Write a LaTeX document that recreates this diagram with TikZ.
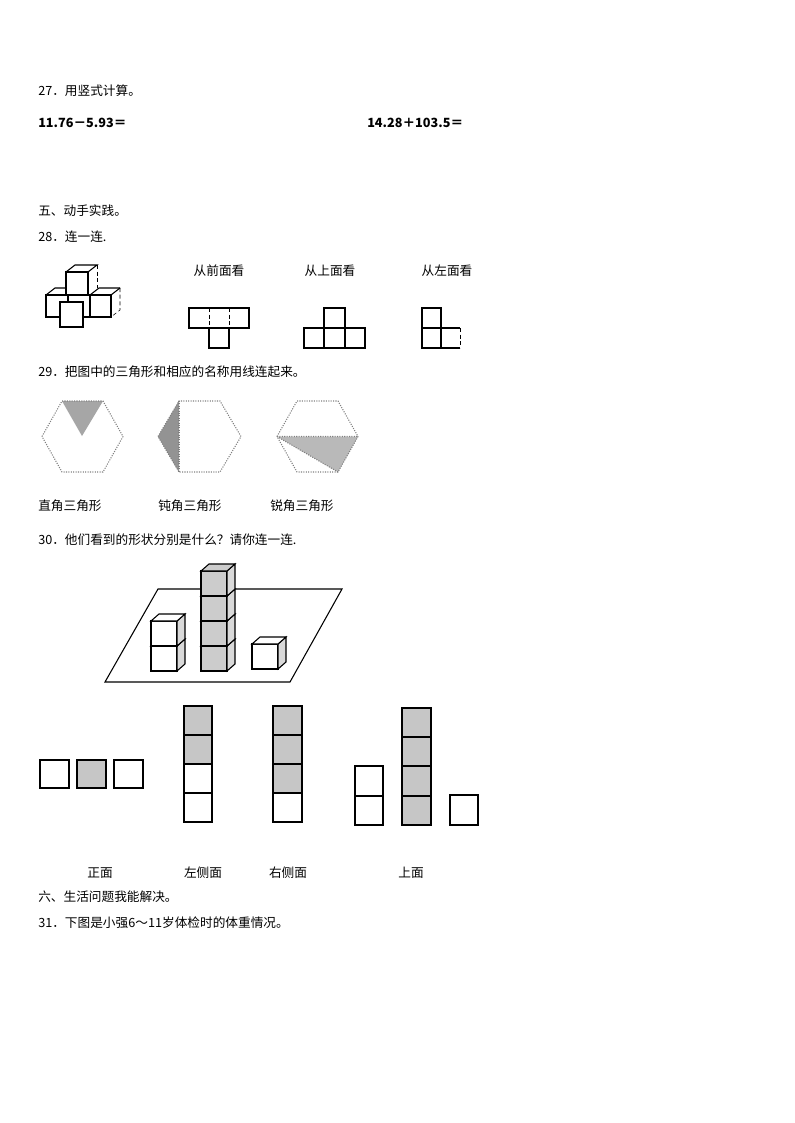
\documentclass[tikz,border=0pt]{standalone}
\usepackage{fontspec}
\setmainfont{Liberation Serif}
\newfontfamily\cjk{Noto Sans CJK SC}
\begin{document}
\begin{tikzpicture}[x=0.75pt,y=-0.75pt,
  txt/.style={anchor=west,inner sep=0,font=\cjk\fontsize{9.5}{11}\selectfont},
  ctxt/.style={inner sep=0,font=\cjk\fontsize{9.5}{11}\selectfont},
  hex/.style={draw=gray,densely dotted,thick},
  sq/.style={draw=black,thick},
  gsq/.style={draw=black,thick,fill=gray!45}]
\useasboundingbox (0,0) rectangle (794,1123);
\fill[white] (0,0) rectangle (794,1123);
% texts
\node[txt] (t27) at (38,91) {27．用竖式计算。};
\node[txt] (e1) at (38,123) {\bfseries 11.76－5.93＝};
\node[txt] (e2) at (367,123) {\bfseries 14.28＋103.5＝};
\node[txt] (t5) at (38,211) {五、动手实践。};
\node[txt] (t28) at (38,237) {28．连一连.};
\node[ctxt] (l1) at (219,271) {从前面看};
\node[ctxt] (l2) at (330,271) {从上面看};
\node[ctxt] (l3) at (447,271) {从左面看};
\node[txt] (t29) at (38,372) {29．把图中的三角形和相应的名称用线连起来。};
\node[txt] (n1) at (38,506) {直角三角形};
\node[txt] (n2) at (158,506) {钝角三角形};
\node[txt] (n3) at (270,506) {锐角三角形};
\node[txt] (t30) at (38,540) {30．他们看到的形状分别是什么？请你连一连.};
\node[ctxt] (v1) at (100,873) {正面};
\node[ctxt] (v2) at (203,873) {左侧面};
\node[ctxt] (v3) at (288,873) {右侧面};
\node[ctxt] (v4) at (411,873) {上面};
\node[txt] (t6) at (38,897) {六、生活问题我能解决。};
\node[txt] (t31) at (38,923) {31．下图是小强6～11岁体检时的体重情况。};
% Q28 cube figure
\begin{scope}[thick]
\def\dx{9}\def\dy{-7}
% back row
\draw (46,295) rectangle (68,317);
\draw (46,295) -- ++(\dx,\dy) -- (68+\dx,295+\dy);
\draw[fill=white] (90,295) rectangle (111,317);
\draw (90,295) -- ++(\dx,\dy) -- (111+\dx,295+\dy);
\draw[densely dashed,thin] (111+\dx,295+\dy) -- (111+\dx,317+\dy) -- (111,317);
\draw (111,295)--(111+\dx,295+\dy);
\draw[densely dashed,thin] (90,295) -- (90,317);
% top cube
\draw[fill=white] (66,272) rectangle (88,295);
\draw (66,272) -- ++(\dx,\dy) -- (88+\dx,272+\dy) -- (88,272);
\draw[densely dashed,thin] (88+\dx,272+\dy) -- (88+\dx,295+\dy);
\draw (68,317)--(90,317);
% front cube
\draw[fill=white] (60,302) rectangle (83,327);
\end{scope}
% views
\begin{scope}[thick]
\draw (189,308) rectangle (249,328);
\draw[densely dashed,thin] (209,308)--(209,328) (229,308)--(229,328);
\draw (209,328) rectangle (229,348);
\draw (324,308) rectangle (345,328);
\draw (304,328) rectangle (365,348);
\draw (324,328)--(324,348) (345,328)--(345,348);
\draw (422,308) rectangle (441,348);
\draw (422,328)--(441,328);
\draw (441,328)--(460,328) (441,348)--(460,348);
\draw[densely dashed,thin] (460,328)--(460,348);
\end{scope}
% Q29 hexagons
\fill[gray!70] (62,401) -- (103,401) -- (82,436) -- cycle;
\draw[hex] (42,436.5) -- (62,401) -- (103,401) -- (123,436.5) -- (103,472) -- (62,472) -- cycle;
\fill[gray!85] (179,401) -- (158,436.5) -- (179,472) -- cycle;
\draw[hex] (158,436.5) -- (179,401) -- (220,401) -- (241,436.5) -- (220,472) -- (179,472) -- cycle;
\draw[hex] (179,401) -- (179,472);
\fill[gray!55] (277,436.5) -- (358,436.5) -- (338,472) -- cycle;
\draw[hex] (277,436.5) -- (297,401) -- (338,401) -- (358,436.5) -- (338,472) -- (297,472) -- cycle;
\draw[hex] (277,436.5) -- (358,436.5) (277,436.5) -- (338,472);
% Q30 scene
\draw[thick] (158,589) -- (342,589) -- (290,682) -- (105,682) -- cycle;
\def\cube#1#2#3{% x, ytop, fill
  \draw[fill=#3] (#1,#2) rectangle ++(26,25);
  \draw[fill=gray!30] (#1+26,#2) -- ++(8,-7) -- ++(0,25) -- ++(-8,7) -- cycle;
  \draw[fill=#3] (#1,#2) -- ++(8,-7) -- ++(26,0) -- ++(-8,7) -- cycle;}
\begin{scope}[thick]
\cube{151}{646}{white}\cube{151}{621}{white}
\cube{201}{646}{gray!40}\cube{201}{621}{gray!40}\cube{201}{596}{gray!40}\cube{201}{571}{gray!40}
\cube{252}{644}{white}
\end{scope}
% answer views
\begin{scope}[thick]
\draw[sq] (40,760) rectangle (69,788);
\draw[gsq] (77,760) rectangle (106,788);
\draw[sq] (114,760) rectangle (143,788);
\draw[gsq] (184,706) rectangle (212,735);
\draw[gsq] (184,735) rectangle (212,764);
\draw[sq] (184,764) rectangle (212,793);
\draw[sq] (184,793) rectangle (212,822);
\draw[gsq] (273,706) rectangle (302,735);
\draw[gsq] (273,735) rectangle (302,764);
\draw[gsq] (273,764) rectangle (302,793);
\draw[sq] (273,793) rectangle (302,822);
\draw[sq] (355,766) rectangle (383,796);
\draw[sq] (355,796) rectangle (383,825);
\draw[gsq] (402,708) rectangle (431,737);
\draw[gsq] (402,737) rectangle (431,766);
\draw[gsq] (402,766) rectangle (431,796);
\draw[gsq] (402,796) rectangle (431,825);
\draw[sq] (450,795) rectangle (478,825);
\end{scope}
\end{tikzpicture}
\end{document}
